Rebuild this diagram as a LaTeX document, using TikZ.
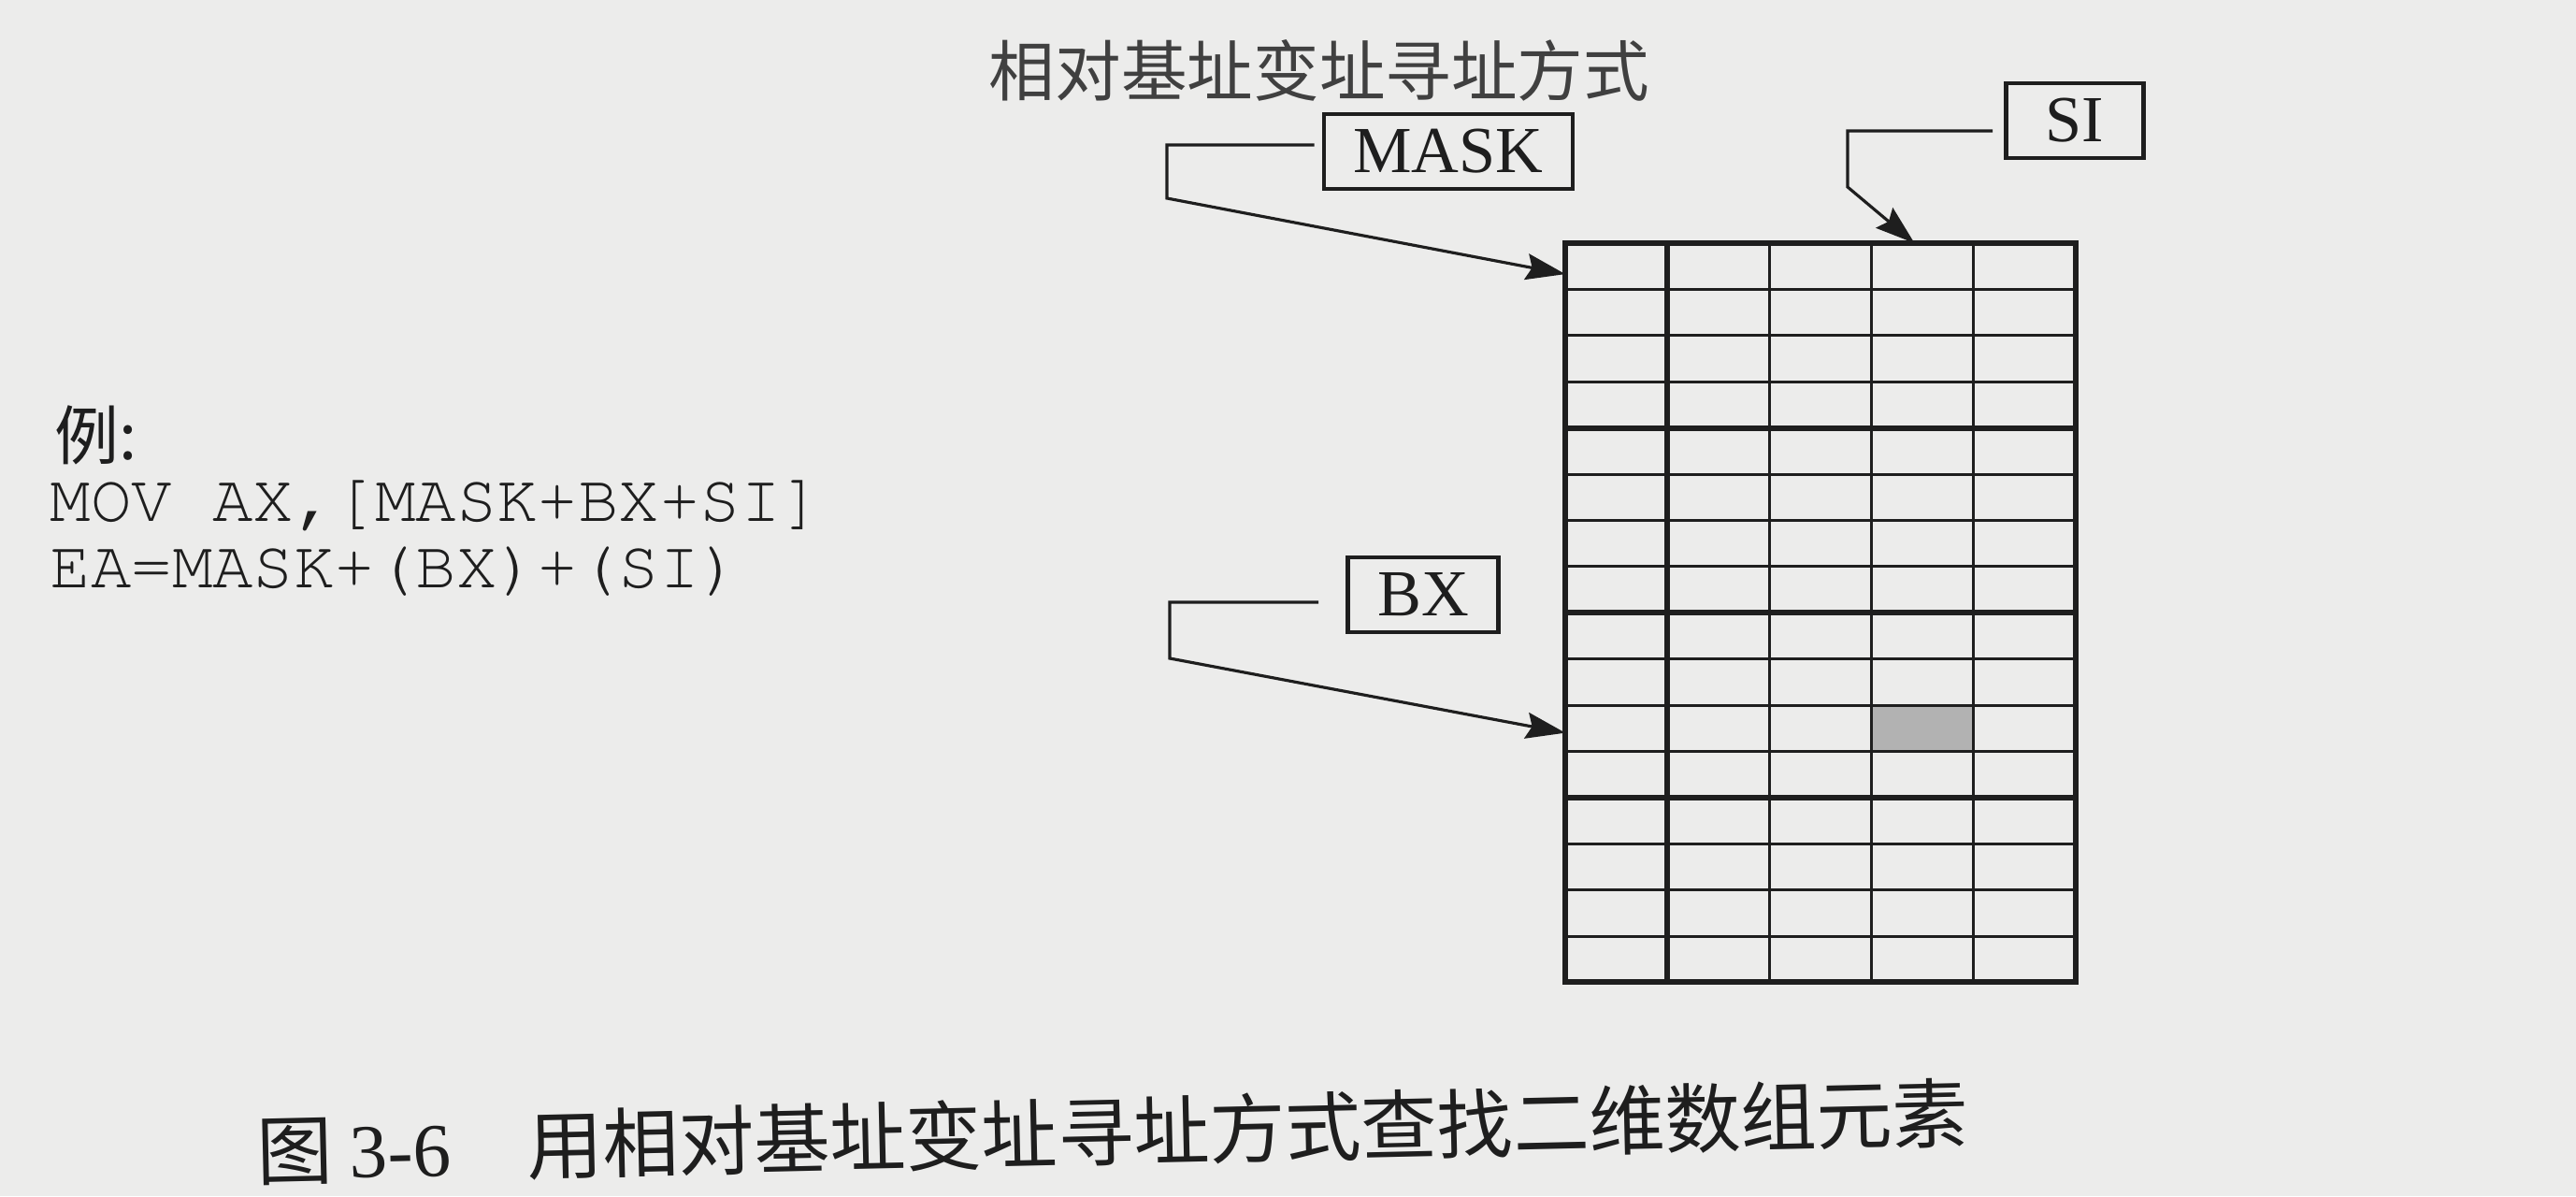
\documentclass[tikz,border=0pt]{standalone}
\usepackage[T1]{fontenc}
\usepackage{fontspec}
\setmainfont{Liberation Serif}
\newfontfamily\cjk{Noto Sans CJK SC}
\newcommand\codefont{\fontencoding{T1}\fontfamily{pcr}\fontseries{m}\fontshape{n}\selectfont}
\usetikzlibrary{arrows.meta}
\definecolor{paper}{RGB}{236,236,235}
\definecolor{ink}{RGB}{30,30,30}
\begin{document}
\begin{tikzpicture}
[inner sep=0pt, color=ink,
 regbox/.style={draw,line width=1.4pt,minimum height=0.8cm,font=\fontsize{20pt}{20pt}\selectfont},
 conn/.style={line width=0.9pt,-{Stealth[length=0.42cm,width=0.28cm,inset=0.06cm]}},
 codeline/.style={anchor=base west,font=\codefont\fontsize{20.6pt}{21pt}\selectfont},
 thinline/.style={line width=0.85pt},
 thickline/.style={line width=1.7pt}]
\fill[paper] (0,0) rectangle (27.55,-12.79);
\useasboundingbox (0,0) rectangle (27.55,-12.79);
\path (14.11,-0.75) node (title) [font=\cjk\fontsize{20.1pt}{21pt}\selectfont,text=ink!85] {相对基址变址寻址方式}
(15.49,-1.62) node (mask) [regbox,minimum width=2.66cm] {MASK}
(22.19,-1.29) node (si) [regbox,minimum width=1.47cm] {SI}
(15.22,-6.36) node (bx) [regbox,minimum width=1.61cm] {BX}
(0.58,-4.91) node (eg) [anchor=base west,text depth=0pt,font=\cjk\fontsize{19.6pt}{20pt}\selectfont] {例:}
(0.53,-5.57) node (code1) [codeline] {MOV AX,[MASK+BX+SI]}
(0.53,-6.28) node (code2) [codeline] {EA=MASK+(BX)+(SI)}
(11.90,-12.10) node (caption) [rotate=1.3,font=\cjk\fontsize{23.1pt}{24pt}\selectfont] {图 {\rmfamily 3-6}\quad 用相对基址变址寻址方式查找二维数组元素};
\begin{scope}[shift={(16.74,-2.60)},x=1.092cm,y=-0.494cm]
\fill[gray!60] (3,10) rectangle (4,11);
\foreach \r in {1,2,3,5,6,7,9,10,11,13,14,15} \draw[thinline] (0,\r) -- (5,\r);
\foreach \c in {2,3,4} \draw[thinline] (\c,0) -- (\c,16);
\foreach \r in {4,8,12} \draw[thickline] (0,\r) -- (5,\r);
\draw[thickline] (1,0) -- (1,16);
\draw[thickline] (0,0) rectangle (5,16);
\coordinate (masktip) at (0,0.67);
\coordinate (sitip) at (3.42,0);
\coordinate (bxtip) at (0,10.6);
\end{scope}
\coordinate (mask1) at (12.48,-1.55);
\coordinate (mask2) at (12.48,-2.12);
\coordinate (si1) at (19.76,-1.40);
\coordinate (si2) at (19.76,-2.00);
\coordinate (bx1) at (12.51,-6.44);
\coordinate (bx2) at (12.51,-7.04);
\draw [conn,shorten <=0.08cm] (mask.west |- mask1) -- (mask1) -- (mask2) -- (masktip);
\draw [conn,shorten <=0.12cm] (si.west |- si1) -- (si1) -- (si2) -- (sitip);
\draw [conn,shorten <=0.29cm] (bx.west |- bx1) -- (bx1) -- (bx2) -- (bxtip);
\end{tikzpicture}
\end{document}
